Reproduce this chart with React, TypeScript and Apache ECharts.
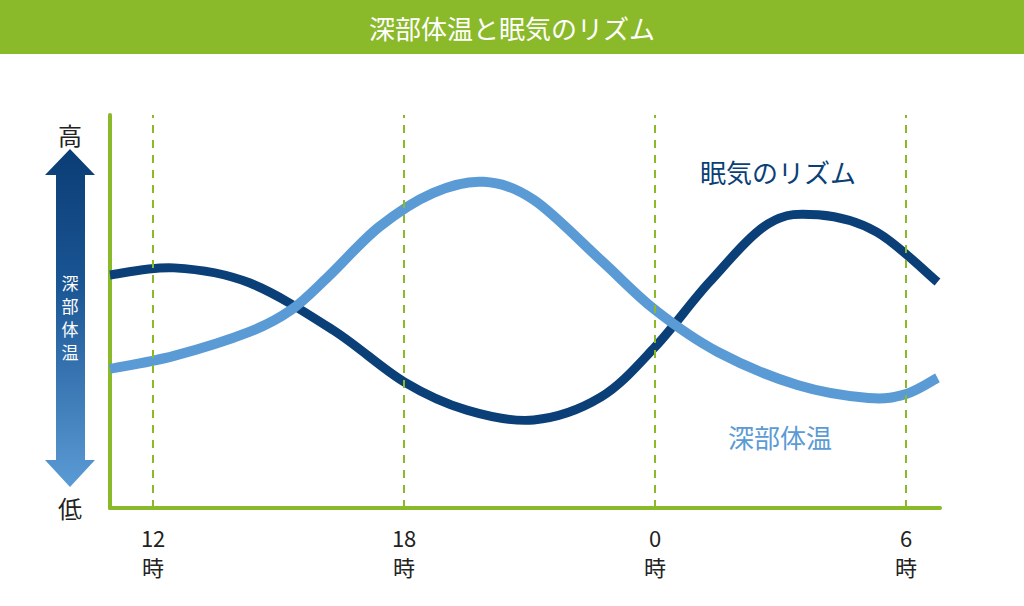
import React, { useEffect, useRef } from "react";
import * as echarts from "echarts";

// hours (12 = noon, 24 = midnight, 30 = 6 am next day)
const sleepHours = [10.97, 12.5, 14.3, 16.3, 18, 19.5, 21.1, 22.7, 24, 25.3, 26.7, 27.9, 29.3, 30.75];
const sleepLevel = [59.3, 61.1, 57.3, 45.3, 32.1, 24.9, 22.4, 28.2, 41.0, 57.5, 72.3, 74.6, 70.2, 57.5];

const tempHours = [10.97, 12.5, 14.3, 15.3, 16.2, 17.4, 18.7, 19.9, 21.1, 22.7, 24, 25.5, 27.4, 29.1, 30.0, 30.75];
const tempLevel = [35.4, 38.7, 44.8, 50.4, 59.0, 71.5, 80.2, 83.0, 78.4, 63.1, 50.4, 39.7, 31.3, 28.0, 29.0, 33.1];

const tickHours = [12, 18, 24, 30];
const tickLabels = ["12", "18", "0", "6"];
const HOUR_UNIT = "時";

const TITLE = "深部体温と眠気のリズム";
const SLEEP_NAME = "眠気のリズム";
const TEMP_NAME = "深部体温";
const ARROW_CHARS = ["深", "部", "体", "温"];

const GREEN = "#8ab92a";
const DARK = "#0b3f77";
const LIGHT = "#5b9bd5";
const FONT = "'Noto Sans CJK JP', 'Noto Sans', sans-serif";
const X_MIN = 10.97;
const X_MAX = 30.81;

function smoothPath(pts: number[][]): string {
  if (pts.length < 2) return "";
  let d = `M${pts[0][0]},${pts[0][1]}`;
  for (let i = 0; i < pts.length - 1; i++) {
    const p0 = pts[Math.max(0, i - 1)];
    const p1 = pts[i];
    const p2 = pts[i + 1];
    const p3 = pts[Math.min(pts.length - 1, i + 2)];
    const c1x = p1[0] + (p2[0] - p0[0]) / 6;
    const c1y = p1[1] + (p2[1] - p0[1]) / 6;
    const c2x = p2[0] - (p3[0] - p1[0]) / 6;
    const c2y = p2[1] - (p3[1] - p1[1]) / 6;
    d += ` C${c1x},${c1y} ${c2x},${c2y} ${p2[0]},${p2[1]}`;
  }
  return d;
}

function curveSeries(name: string, hours: number[], levels: number[], color: string, width: number) {
  const data = hours.map((h, i) => [h, levels[i]]);
  return {
    name,
    type: "custom",
    data,
    encode: { x: 0, y: 1 },
    clip: false,
    silent: true,
    renderItem: (params: any, api: any) => {
      if (params.dataIndex !== 0) return null;
      const pts = data.map((p) => api.coord(p));
      return {
        type: "path",
        shape: { pathData: smoothPath(pts) },
        style: { stroke: color, lineWidth: width, fill: "none", lineCap: "butt" },
      };
    },
  };
}

export default function App() {
  const ref = useRef<HTMLDivElement>(null);
  useEffect(() => {
    document.body.style.margin = "0";
    if (!ref.current) return;
    const chart = echarts.init(ref.current, undefined, { renderer: "svg" });
    chart.setOption({
      animation: false,
      grid: { left: 110, right: 84, top: 115, bottom: 98 },
      xAxis: [
        {
          type: "value",
          min: X_MIN,
          max: X_MAX,
          axisLine: { show: true, onZero: false, lineStyle: { color: GREEN, width: 4 } },
          axisTick: { show: false },
          splitLine: { show: false },
          axisLabel: {
            customValues: tickHours,
            formatter: (v: number) => tickLabels[tickHours.indexOf(v)],
            color: "#222",
            fontSize: 22,
            margin: 18,
            fontFamily: FONT,
          },
        },
        {
          type: "value",
          position: "bottom",
          min: X_MIN,
          max: X_MAX,
          axisLine: { show: false, onZero: false },
          axisTick: { show: false },
          splitLine: { show: false },
          axisLabel: {
            customValues: tickHours,
            formatter: () => HOUR_UNIT,
            color: "#222",
            fontSize: 22,
            margin: 47,
            fontFamily: FONT,
          },
        },
      ],
      yAxis: {
        type: "value",
        min: 0,
        max: 100,
        axisLine: { show: true, lineStyle: { color: GREEN, width: 4 } },
        axisTick: { show: false },
        axisLabel: { show: false },
        splitLine: { show: false },
      },
      series: [
        {
          type: "line",
          data: tickHours.map((h) => [h, 50]),
          showSymbol: false,
          silent: true,
          lineStyle: { width: 0, opacity: 0 },
          markLine: {
            silent: true,
            symbol: ["none", "none"],
            label: { show: false },
            lineStyle: { color: GREEN, width: 2, type: [8, 7] },
            data: tickHours.map((h) => ({ xAxis: h })),
          },
        },
        curveSeries(SLEEP_NAME, sleepHours, sleepLevel, DARK, 9),
        curveSeries(TEMP_NAME, tempHours, tempLevel, LIGHT, 10),
      ],
      graphic: [
        { type: "rect", shape: { x: 0, y: 0, width: 1024, height: 54 }, style: { fill: GREEN } },
        {
          type: "text",
          x: 512,
          y: 27,
          style: { text: TITLE, fill: "#fff", fontSize: 26, fontFamily: FONT, align: "center", verticalAlign: "middle" },
        },
        {
          type: "polygon",
          shape: {
            points: [
              [70, 149], [95, 175], [85, 175], [85, 460], [95, 460], [70, 487], [45, 460], [56, 460], [56, 175], [45, 175],
            ],
          },
          style: {
            fill: new echarts.graphic.LinearGradient(0, 0, 0, 1, [
              { offset: 0, color: "#0b3d75" },
              { offset: 0.4, color: "#1a5594" },
              { offset: 1, color: "#5b9bd5" },
            ]),
          },
        },
        ...ARROW_CHARS.map((c, i) => ({
          type: "text",
          x: 70,
          y: 274 + i * 23,
          style: { text: c, fill: "#fff", fontSize: 17, fontFamily: FONT, align: "center", verticalAlign: "top" },
        })),
        {
          type: "text",
          x: 70,
          y: 134,
          style: { text: "高", fill: "#222", fontSize: 24, fontFamily: FONT, align: "center", verticalAlign: "middle" },
        },
        {
          type: "text",
          x: 70,
          y: 507,
          style: { text: "低", fill: "#222", fontSize: 24, fontFamily: FONT, align: "center", verticalAlign: "middle" },
        },
        {
          type: "text",
          x: 700,
          y: 171,
          style: { text: SLEEP_NAME, fill: DARK, fontSize: 26, fontFamily: FONT, align: "left", verticalAlign: "middle" },
        },
        {
          type: "text",
          x: 728,
          y: 436,
          style: { text: TEMP_NAME, fill: LIGHT, fontSize: 26, fontFamily: FONT, align: "left", verticalAlign: "middle" },
        },
      ],
    });
    return () => chart.dispose();
  }, []);
  return <div ref={ref} style={{ width: 1024, height: 606 }} />;
}
